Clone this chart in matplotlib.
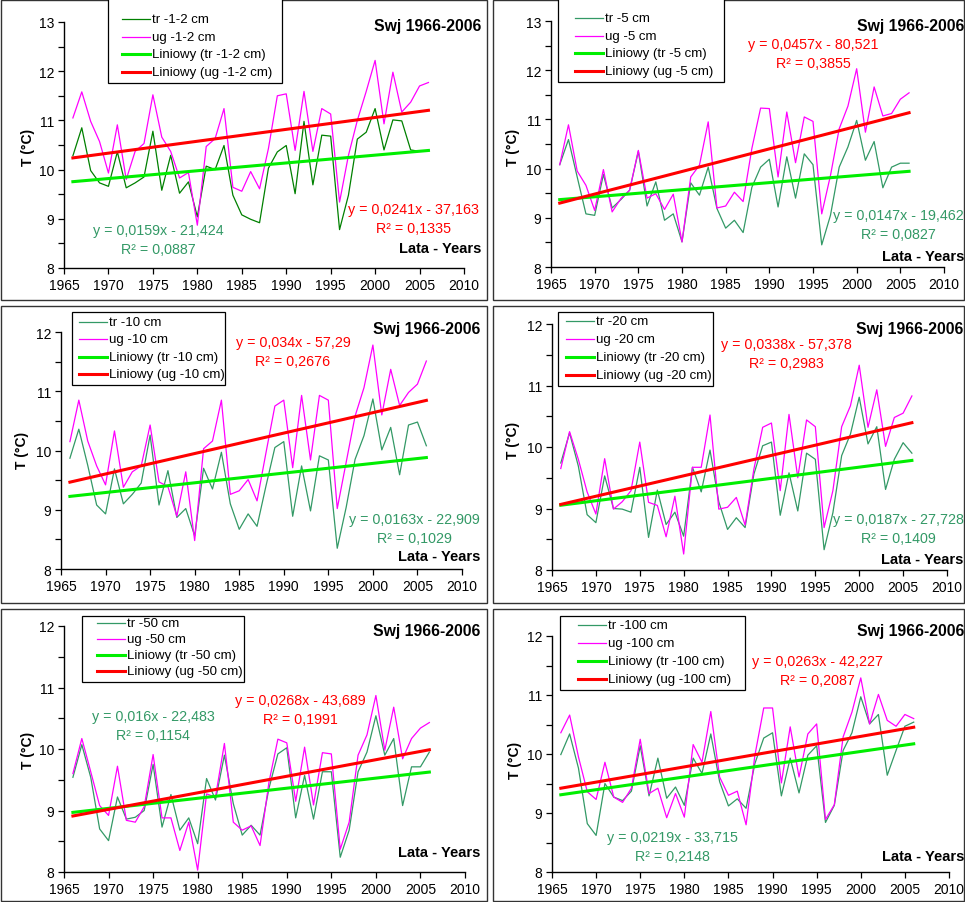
import numpy as np
import matplotlib
matplotlib.use('Agg')
import matplotlib.pyplot as plt
from matplotlib.ticker import MultipleLocator
from matplotlib.lines import Line2D
from matplotlib.patches import Rectangle

plt.rcParams['font.family'] = ['Liberation Sans', 'DejaVu Sans']

W, H = 965, 903

years = np.arange(1966, 2007)

# soil temperature, tr = trawnik, ug = ugor
tr_1_2 = [10.28, 10.85, 9.98, 9.73, 9.66, 10.36, 9.63, 9.73, 9.85, 10.78,
          9.58, 10.29, 9.52, 9.75, 9.04, 10.07, 10.00, 10.49, 9.48, 9.08,
          8.99, 8.92, 10.03, 10.36, 10.49, 9.51, 10.98, 9.69, 10.70, 10.68,
          8.78, 9.48, 10.62, 10.76, 11.24, 10.40, 11.01, 10.99, 10.40, 10.37, 10.39]
ug_1_2 = [11.05, 11.58, 10.98, 10.57, 9.93, 10.91, 9.80, 10.37, 10.53, 11.52,
          10.66, 10.37, 9.83, 9.94, 8.87, 10.47, 10.63, 11.24, 9.64, 9.56,
          9.96, 9.61, 10.43, 11.50, 11.54, 10.39, 11.59, 10.37, 11.24, 11.13,
          9.34, 10.29, 11.00, 11.59, 12.22, 10.93, 11.98, 11.17, 11.37, 11.70, 11.77]

tr_5 = [10.08, 10.59, 9.83, 9.08, 9.05, 9.88, 9.20, 9.37, 9.56, 10.35,
        9.24, 9.73, 8.95, 9.08, 8.51, 9.71, 9.46, 10.03, 9.19, 8.79,
        8.95, 8.70, 9.62, 10.03, 10.19, 9.22, 10.24, 9.40, 10.30, 10.08,
        8.45, 9.05, 10.03, 10.44, 10.98, 10.17, 10.55, 9.61, 10.03, 10.11, 10.11]
ug_5 = [10.08, 10.89, 9.95, 9.66, 9.15, 9.98, 9.12, 9.39, 9.56, 10.37,
        9.40, 9.49, 9.17, 9.48, 8.51, 9.83, 10.07, 10.95, 9.20, 9.24,
        9.52, 9.33, 10.41, 11.23, 11.22, 9.83, 11.15, 10.12, 11.05, 10.96,
        9.08, 9.86, 10.81, 11.27, 12.03, 10.74, 11.66, 11.07, 11.12, 11.41, 11.54]

tr_10 = [9.87, 10.36, 9.75, 9.08, 8.93, 9.69, 9.10, 9.26, 9.45, 10.26,
         9.08, 9.66, 8.87, 9.02, 8.56, 9.70, 9.35, 9.97, 9.10, 8.67,
         8.93, 8.72, 9.40, 10.05, 10.15, 8.89, 9.74, 8.98, 9.91, 9.84,
         8.35, 9.04, 9.85, 10.25, 10.87, 10.01, 10.39, 9.59, 10.43, 10.48, 10.08]
ug_10 = [10.15, 10.85, 10.16, 9.74, 9.42, 10.33, 9.38, 9.64, 9.74, 10.43,
         9.47, 9.39, 8.89, 9.64, 8.48, 10.03, 10.16, 10.85, 9.26, 9.32,
         9.51, 9.15, 9.96, 10.75, 10.85, 9.71, 10.93, 9.84, 10.93, 10.85,
         9.02, 9.80, 10.58, 11.06, 11.78, 10.60, 11.37, 10.76, 10.98, 11.12, 11.51]

tr_20 = [9.74, 10.23, 9.69, 8.90, 8.77, 9.53, 9.00, 8.99, 8.94, 9.67,
         8.53, 9.30, 8.74, 8.94, 8.55, 9.67, 9.27, 9.95, 9.11, 8.66,
         8.85, 8.69, 9.56, 10.02, 10.08, 8.89, 9.58, 8.96, 9.90, 9.80,
         8.33, 8.93, 9.86, 10.21, 10.81, 10.05, 10.33, 9.31, 9.80, 10.07, 9.90]
ug_20 = [9.65, 10.25, 9.80, 9.27, 8.91, 9.81, 8.99, 9.11, 9.29, 10.08,
         9.10, 9.05, 8.54, 9.20, 8.26, 9.67, 9.67, 10.52, 8.99, 9.02,
         9.18, 8.73, 9.64, 10.32, 10.39, 9.29, 10.53, 9.50, 10.44, 10.33,
         8.69, 9.29, 10.33, 10.67, 11.33, 10.32, 10.93, 10.01, 10.48, 10.55, 10.83]

tr_50 = [9.54, 10.07, 9.54, 8.70, 8.51, 9.22, 8.86, 8.89, 9.00, 9.75,
         8.73, 9.26, 8.68, 8.88, 8.46, 9.52, 9.17, 9.90, 9.11, 8.60,
         8.76, 8.60, 9.36, 9.92, 10.02, 8.88, 9.57, 8.86, 9.63, 9.63,
         8.24, 8.68, 9.63, 9.95, 10.54, 9.90, 10.17, 9.08, 9.71, 9.71, 9.95]
ug_50 = [9.60, 10.17, 9.63, 9.08, 8.92, 9.72, 8.84, 8.81, 9.06, 9.91,
         8.88, 8.88, 8.35, 8.81, 8.03, 9.27, 9.22, 10.09, 8.81, 8.68,
         8.75, 8.43, 9.46, 10.16, 10.10, 9.15, 10.03, 9.09, 9.94, 9.92,
         8.37, 8.81, 9.90, 10.23, 10.87, 9.98, 10.68, 9.84, 10.17, 10.34, 10.43]

tr_100 = [9.99, 10.34, 9.76, 8.82, 8.62, 9.50, 9.27, 9.21, 9.37, 10.14,
          9.29, 9.93, 9.25, 9.44, 9.13, 9.93, 9.67, 10.34, 9.53, 9.12,
          9.24, 9.08, 9.84, 10.27, 10.36, 9.29, 9.93, 9.34, 9.98, 10.14,
          8.84, 9.13, 10.06, 10.36, 10.97, 10.51, 10.67, 9.64, 10.06, 10.47, 10.54]
ug_100 = [10.36, 10.66, 9.95, 9.36, 9.23, 9.86, 9.27, 9.18, 9.42, 10.25,
          9.33, 9.42, 8.92, 9.33, 8.93, 10.16, 9.86, 10.72, 9.61, 9.30,
          9.37, 8.80, 9.98, 10.78, 10.78, 9.51, 10.46, 9.61, 10.34, 10.51,
          8.89, 9.14, 10.29, 10.71, 11.29, 10.51, 11.01, 10.57, 10.47, 10.67, 10.60]

depths = ['-1-2 cm', '-5 cm', '-10 cm', '-20 cm', '-50 cm', '-100 cm']
tr_series = [tr_1_2, tr_5, tr_10, tr_20, tr_50, tr_100]
ug_series = [ug_1_2, ug_5, ug_10, ug_20, ug_50, ug_100]
tr_eq = ['y = 0,0159x - 21,424', 'y = 0,0147x - 19,462', 'y = 0,0163x - 22,909',
         'y = 0,0187x - 27,728', 'y = 0,016x - 22,483', 'y = 0,0219x - 33,715']
tr_r2 = ['0,0887', '0,0827', '0,1029', '0,1409', '0,1154', '0,2148']
ug_eq = ['y = 0,0241x - 37,163', 'y = 0,0457x - 80,521', 'y = 0,034x - 57,29',
         'y = 0,0338x - 57,378', 'y = 0,0268x - 43,689', 'y = 0,0263x - 42,227']
ug_r2 = ['0,1335', '0,3855', '0,2676', '0,2983', '0,1991', '0,2087']
y_top = [13, 13, 12, 12, 12, 12]
title = 'Swj 1966-2006'

# layout in pixels (left, top, right, bottom)
layout = [
    dict(ax=(64, 23, 464, 269), box=(1, 1, 487, 301), leg=(108, -2, 282, 84), hx=14, r1=20, sp=17.7,
         title=(481, 26), lata=(481, 249), tr=(158, 231), ug=(413, 210), ylab=(28, 147)),
    dict(ax=(551, 22, 944, 268), box=(493, 1, 964, 301), leg=(558, -2, 724, 83), hx=17, r1=19, sp=17.7,
         title=(964, 26), lata=(964, 257), tr=(898, 216), ug=(813, 45), ylab=(513, 147)),
    dict(ax=(61, 333, 462, 570), box=(1, 307, 487, 604), leg=(72, 313, 225, 386), hx=7, r1=323, sp=17.4,
         title=(480, 330), lata=(480, 557), tr=(414, 520), ug=(293, 343), ylab=(22, 450)),
    dict(ax=(552, 325, 947, 571), box=(493, 307, 964, 604), leg=(558, 313, 713, 387), hx=8, r1=322, sp=18,
         title=(963, 330), lata=(963, 560), tr=(898, 520), ug=(786, 345), ylab=(513, 440)),
    dict(ax=(64, 627, 465, 873), box=(1, 610, 487, 902), leg=(82, 617, 244, 683), hx=15, r1=624, sp=16,
         title=(480, 632), lata=(480, 853), tr=(153, 717), ug=(300, 701), ylab=(28, 750)),
    dict(ax=(552, 637, 949, 873), box=(493, 610, 964, 902), leg=(560, 617, 745, 691), hx=18, r1=626, sp=18,
         title=(964, 632), lata=(964, 857), tr=(672, 838), ug=(817, 662), ylab=(515, 760)),
]

C_TR = ['#008000', '#339966', '#339966', '#339966', '#339966', '#339966']
C_UG = '#ff00ff'
C_TR_FIT = '#00ee00'
C_UG_FIT = '#ff0000'
C_TR_TXT = '#339966'


def fx(x):
    return x / W


def fy(y):
    return 1 - y / H


def ftext(x, y, s, **kw):
    fig.text(fx(x), fy(y), s, va='center', **kw)


fig = plt.figure(figsize=(W / 100, H / 100), dpi=100)

for i, lay in enumerate(layout):
    # chart border
    bl, bt, br, bb = lay['box']
    fig.add_artist(Rectangle((fx(bl), fy(bb)), (br - bl) / W, (bb - bt) / H,
                             transform=fig.transFigure, fill=False, ec='#333333', lw=1))

    l, t, r, b = lay['ax']
    ax = fig.add_axes([fx(l), fy(b), (r - l) / W, (b - t) / H])
    ax.patch.set_alpha(0)
    tr = np.array(tr_series[i])
    ug = np.array(ug_series[i])
    ax.plot(years, tr, color=C_TR[i], lw=0.9)
    ax.plot(years, ug, color=C_UG, lw=0.9)
    p_tr = np.polyfit(years, tr, 1)
    p_ug = np.polyfit(years, ug, 1)
    ax.plot(years, np.polyval(p_tr, years), color=C_TR_FIT, lw=2.2)
    ax.plot(years, np.polyval(p_ug, years), color=C_UG_FIT, lw=2.2)

    ax.set_xlim(1965, 2010)
    ax.set_ylim(8, y_top[i])
    ax.set_xticks(range(1965, 2011, 5))
    ax.yaxis.set_major_locator(MultipleLocator(1))
    ax.yaxis.set_minor_locator(MultipleLocator(0.5))
    for s in ['top', 'right']:
        ax.spines[s].set_visible(False)
    for s in ['left', 'bottom']:
        ax.spines[s].set_linewidth(1)
    ax.tick_params(which='both', direction='out', length=4, width=0.9, labelsize=10, pad=3)

    # texts
    ftext(*lay['title'], title, ha='right', fontsize=11.3, fontweight='bold')
    ftext(*lay['lata'], 'Lata - Years', ha='right', fontsize=10.5, fontweight='bold')
    ftext(*lay['ylab'], 'T (°C)', ha='center', fontsize=10, fontweight='bold', rotation=90)
    x, y = lay['tr']
    ftext(x, y, tr_eq[i], ha='center', fontsize=10.3, color=C_TR_TXT)
    ftext(x, y + 19, 'R² = ' + tr_r2[i], ha='center', fontsize=10.3, color=C_TR_TXT)
    x, y = lay['ug']
    ftext(x, y, ug_eq[i], ha='center', fontsize=10.3, color=C_UG_FIT)
    ftext(x, y + 19, 'R² = ' + ug_r2[i], ha='center', fontsize=10.3, color=C_UG_FIT)

    # legend box, drawn by hand to get the Excel look
    ll, lt, lr, lb = lay['leg']
    fig.add_artist(Rectangle((fx(ll), fy(lb)), (lr - ll) / W, (lb - lt) / H,
                             transform=fig.transFigure, fill=True, fc='white', ec='black', lw=0.9))
    labels = ['tr ' + depths[i], 'ug ' + depths[i],
              'Liniowy (tr ' + depths[i] + ')', 'Liniowy (ug ' + depths[i] + ')']
    colors = [C_TR[i], C_UG, C_TR_FIT, C_UG_FIT]
    widths = [0.9, 0.9, 2.2, 2.2]
    for k in range(4):
        ry = lay['r1'] + k * lay['sp']
        hx0 = ll + lay['hx']
        fig.add_artist(Line2D([fx(hx0), fx(hx0 + 28)], [fy(ry), fy(ry)],
                              transform=fig.transFigure, color=colors[k], lw=widths[k]))
        ftext(hx0 + 30, ry, labels[k], ha='left', fontsize=9.5)

fig.savefig('out.png', dpi=100)
